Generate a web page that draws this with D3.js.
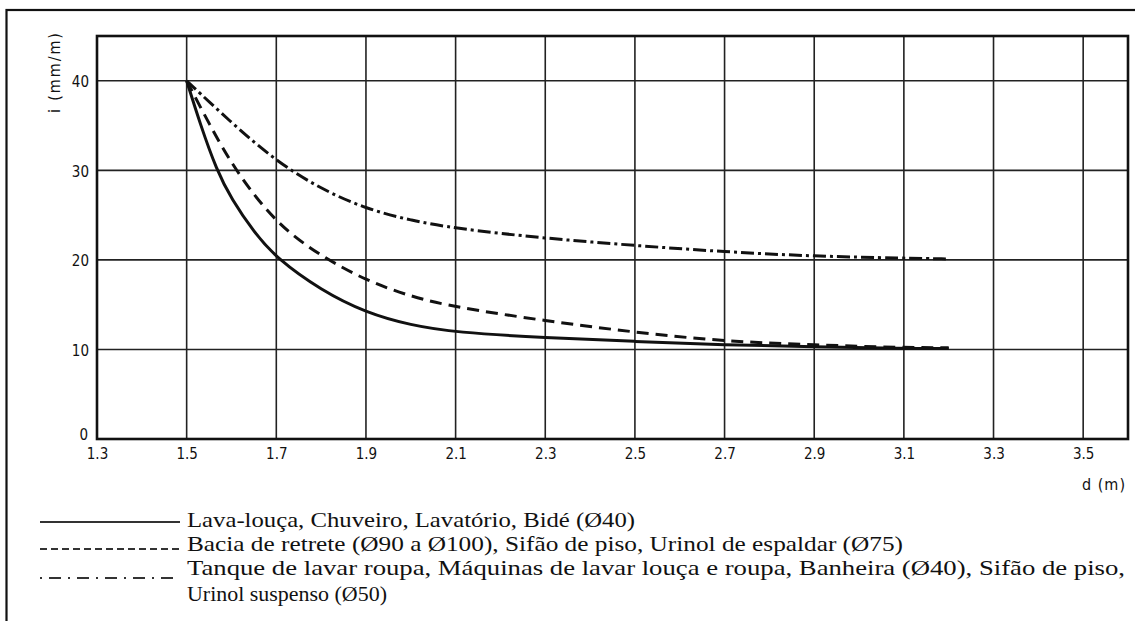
<!DOCTYPE html>
<html>
<head>
<meta charset="utf-8">
<script src="https://cdn.jsdelivr.net/npm/d3@7"></script>
<style>
  body { margin: 0; background: #fff; }
  .tick text { font-family: "DejaVu Sans Condensed", "Liberation Sans", sans-serif; font-size: 15px; fill: #111; }
  .legend text { font-family: "Liberation Serif", "Times New Roman", serif; font-size: 21px; fill: #111; }
</style>
</head>
<body>
<div id="chart"></div>
<script>
// x = d (m), y = i (mm/m)
const xTicks = [1.3, 1.5, 1.7, 1.9, 2.1, 2.3, 2.5, 2.7, 2.9, 3.1, 3.3, 3.5];
const yTicks = [0, 10, 20, 30, 40];

const solidX = [1.5, 1.53, 1.567, 1.6, 1.65, 1.7, 1.8, 1.9, 2.0, 2.1, 2.3, 2.5, 2.7, 2.9, 3.1, 3.2];
const solidY = [40, 35.2, 30, 26.8, 23.1, 20.2, 16.6, 14.1, 12.7, 11.9, 11.3, 10.9, 10.5, 10.3, 10.1, 10.1];

const dashedX = [1.5, 1.55, 1.608, 1.7, 1.8, 1.9, 2.0, 2.1, 2.3, 2.5, 2.7, 2.9, 3.1, 3.2];
const dashedY = [40, 35.2, 30, 24, 20.4, 17.7, 15.9, 14.7, 13.2, 11.9, 10.9, 10.5, 10.2, 10.2];

const dashDotX = [1.5, 1.6, 1.7, 1.8, 1.9, 2.0, 2.1, 2.3, 2.5, 2.7, 2.9, 3.1, 3.2];
const dashDotY = [40, 35.3, 31.0, 27.9, 25.7, 24.4, 23.5, 22.4, 21.6, 20.9, 20.4, 20.2, 20.1];

const legendLabels = [
  "Lava-louça, Chuveiro, Lavatório, Bidé (Ø40)",
  "Bacia de retrete (Ø90 a Ø100), Sifão de piso, Urinol de espaldar (Ø75)",
  "Tanque de lavar roupa, Máquinas de lavar louça e roupa, Banheira (Ø40), Sifão de piso,",
  "Urinol suspenso (Ø50)",
];

const width = 1135, height = 621;
const ink = "#111";

const svg = d3.select("#chart").append("svg")
  .attr("width", width)
  .attr("height", height);

// outer frame (open at right/bottom, runs off the picture)
svg.append("rect")
  .attr("x", 6.5).attr("y", 10)
  .attr("width", 1200).attr("height", 700)
  .attr("fill", "none").attr("stroke", ink).attr("stroke-width", 2.2);

const xScale = d3.scaleLinear().domain([1.3, 3.6]).range([97, 1128]);
const yScale = d3.scaleLinear().domain([0, 45]).range([439, 36]);

// grid
const grid = svg.append("g");
grid.selectAll(".vgrid")
  .data(xTicks.slice(1))
  .join("line")
  .attr("x1", d => xScale(d)).attr("x2", d => xScale(d))
  .attr("y1", yScale(45)).attr("y2", yScale(0))
  .attr("stroke", "#222").attr("stroke-width", 1.6);
grid.selectAll(".hgrid")
  .data(yTicks.slice(1))
  .join("line")
  .attr("x1", xScale(1.3)).attr("x2", xScale(3.6))
  .attr("y1", d => yScale(d)).attr("y2", d => yScale(d))
  .attr("stroke", "#222").attr("stroke-width", 1.6);

// plot box
svg.append("rect")
  .attr("x", xScale(1.3)).attr("y", yScale(45))
  .attr("width", xScale(3.6) - xScale(1.3))
  .attr("height", yScale(0) - yScale(45))
  .attr("fill", "none").attr("stroke", ink).attr("stroke-width", 2.6);

// axes (labels only)
const xAxis = d3.axisBottom(xScale).tickValues(xTicks).tickSize(0).tickPadding(9)
  .tickFormat(d3.format(".1f"));
const gx = svg.append("g").attr("transform", `translate(0, ${yScale(0)})`).call(xAxis);
gx.select(".domain").remove();

const yAxis = d3.axisLeft(yScale).tickValues(yTicks).tickSize(0).tickPadding(8)
  .tickFormat(d3.format("d"));
const gy = svg.append("g").attr("transform", `translate(${xScale(1.3)}, 0)`).call(yAxis);
gy.select(".domain").remove();
gy.selectAll(".tick text").attr("dy", "0.4em");
gy.selectAll(".tick").filter(d => d === 0).select("text")
  .attr("x", -9).attr("dy", "0.05em").style("font-size", "15px");

// axis titles
svg.append("text")
  .attr("transform", "translate(60, 113) rotate(-90)")
  .attr("font-family", "\"DejaVu Sans Condensed\", \"Liberation Sans\", sans-serif")
  .attr("font-size", 16).attr("fill", ink)
  .attr("textLength", 80).attr("lengthAdjust", "spacing")
  .text("i (mm/m)");

svg.append("text")
  .attr("x", 1082).attr("y", 490)
  .attr("font-family", "\"DejaVu Sans Condensed\", \"Liberation Sans\", sans-serif")
  .attr("font-size", 16).attr("fill", ink)
  .attr("textLength", 43).attr("lengthAdjust", "spacing")
  .text("d (m)");

// curves
const line = d3.line()
  .x(d => xScale(d[0]))
  .y(d => yScale(d[1]))
  .curve(d3.curveBasis);

const series = [
  { pts: d3.zip(solidX, solidY), dash: null },
  { pts: d3.zip(dashedX, dashedY), dash: "12,7" },
  { pts: d3.zip(dashDotX, dashDotY), dash: "13,4,3,4" },
];

svg.append("g").selectAll("path")
  .data(series)
  .join("path")
  .attr("d", d => line(d.pts))
  .attr("fill", "none")
  .attr("stroke", ink)
  .attr("stroke-width", 3)
  .attr("stroke-dasharray", d => d.dash);

// legend
const legend = svg.append("g").attr("class", "legend");
const sampleY = [522, 549, 578];
const sampleDash = [null, "7,4", "2,7,12,7"];
legend.selectAll("line")
  .data(sampleY)
  .join("line")
  .attr("x1", 40).attr("x2", 180)
  .attr("y1", d => d).attr("y2", d => d)
  .attr("stroke", "#333")
  .attr("stroke-width", (d, i) => (i === 0 ? 2.2 : 1.8))
  .attr("stroke-dasharray", (d, i) => sampleDash[i]);

// rows stretched to the widths of the print
const textBase = [527, 551, 575, 601];
const textWidth = [448, 716, 938, 200];
legend.selectAll("text")
  .data(legendLabels)
  .join("text")
  .attr("x", 187)
  .attr("y", (d, i) => textBase[i])
  .attr("textLength", (d, i) => textWidth[i])
  .attr("lengthAdjust", "spacingAndGlyphs")
  .text(d => d);
</script>
</body>
</html>
